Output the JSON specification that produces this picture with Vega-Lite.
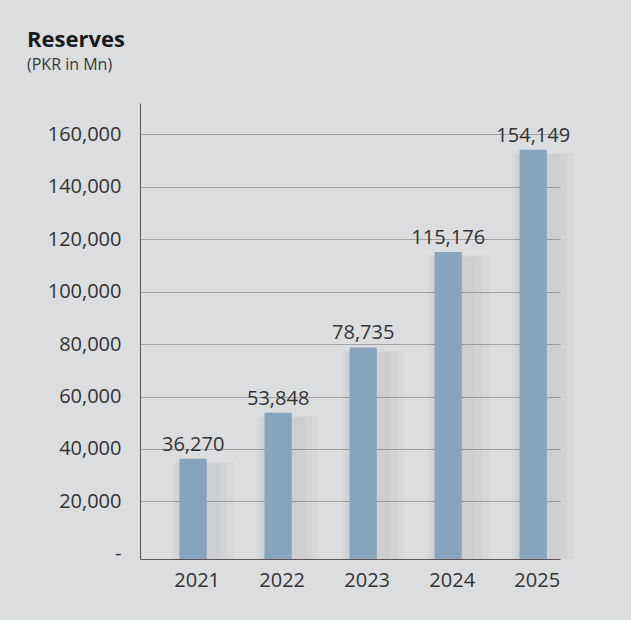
{
  "$schema": "https://vega.github.io/schema/vega-lite/v6.json",
  "width": 420,
  "height": 456,
  "padding": {"left": 27, "top": 29, "right": 58, "bottom": 30},
  "background": "#dcdddf",
  "title": {
    "text": "Reserves",
    "subtitle": "(PKR in Mn)",
    "anchor": "start",
    "frame": "group",
    "dx": -113,
    "font": "Open Sans",
    "fontSize": 22,
    "fontWeight": "bold",
    "color": "#1a1a1a",
    "subtitleFont": "Open Sans",
    "subtitleFontSize": 16,
    "subtitleColor": "#3a3a3a",
    "subtitlePadding": 5,
    "offset": 29
  },
  "data": {
    "values": [
      {"year": "2021", "reserves": 36270},
      {"year": "2022", "reserves": 53848},
      {"year": "2023", "reserves": 78735},
      {"year": "2024", "reserves": 115176},
      {"year": "2025", "reserves": 154149}
    ]
  },
  "encoding": {
    "x": {
      "field": "year",
      "type": "ordinal",
      "scale": {"paddingInner": 0.68, "paddingOuter": 0.31, "align": 0.75},
      "axis": {
        "title": null,
        "labelAngle": 0,
        "ticks": false,
        "domainColor": "#5b5355",
        "labelFont": "Open Sans",
        "labelFontSize": 20,
        "labelColor": "#333333",
        "labelPadding": 11,
        "labelOffset": 4
      }
    },
    "y": {
      "field": "reserves",
      "type": "quantitative",
      "scale": {"domain": [-2000, 172000], "nice": false, "zero": false},
      "axis": {
        "title": null,
        "values": [0, 20000, 40000, 60000, 80000, 100000, 120000, 140000, 160000],
        "labelExpr": "datum.value == 0 ? '-\u00a0\u00a0\u00a0' : format(datum.value, ',')",
        "ticks": false,
        "domainColor": "#5b5355",
        "gridColor": "#a3a3a3",
        "gridOpacity": {"condition": {"test": "datum.value == 0", "value": 0}, "value": 1},
        "labelFont": "Open Sans",
        "labelFontSize": 20,
        "labelColor": "#333333",
        "labelPadding": 19
      }
    }
  },
  "layer": [
    {
      "mark": {"type": "bar", "color": "#000000", "opacity": 0.018, "size": 62, "xOffset": 10, "yOffset": 3},
      "encoding": {"y2": {"datum": -2000}}
    },
    {
      "mark": {"type": "bar", "color": "#000000", "opacity": 0.02, "size": 52, "xOffset": 8, "yOffset": 4},
      "encoding": {"y2": {"datum": -2000}}
    },
    {
      "mark": {"type": "bar", "color": "#000000", "opacity": 0.022, "size": 42, "xOffset": 6, "yOffset": 5},
      "encoding": {"y2": {"datum": -2000}}
    },
    {
      "mark": {"type": "bar", "color": "#87a4be"},
      "encoding": {"y2": {"datum": -2000}}
    },
    {
      "mark": {"type": "text", "baseline": "alphabetic", "dy": -8, "font": "Open Sans", "fontSize": 20, "color": "#333333"},
      "encoding": {
        "text": {"field": "reserves", "type": "quantitative", "format": ","}
      }
    }
  ],
  "config": {"view": {"stroke": null}}
}
